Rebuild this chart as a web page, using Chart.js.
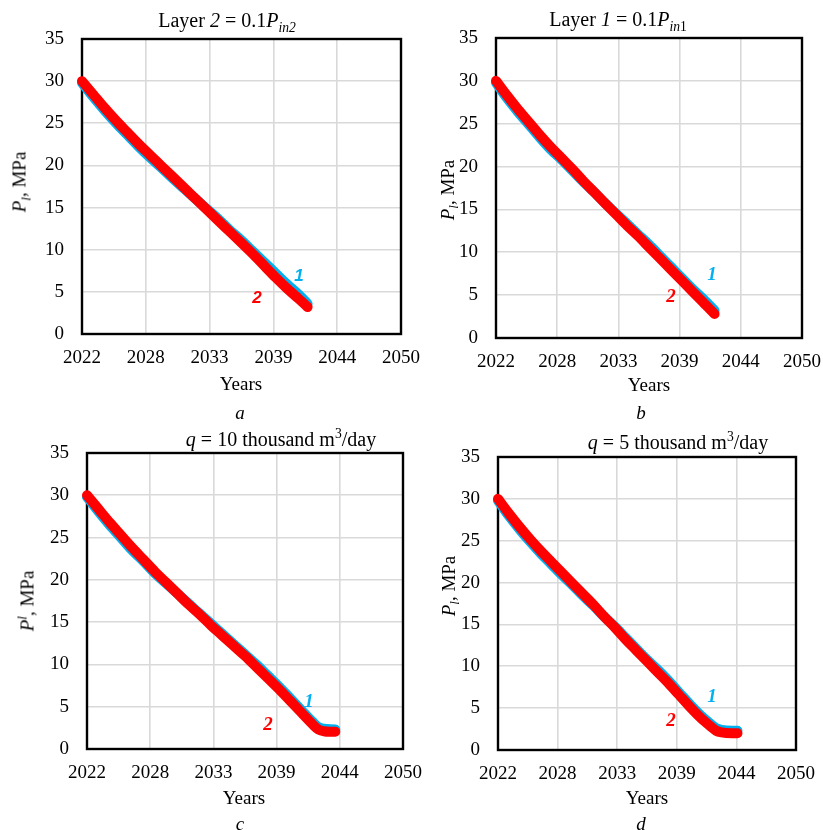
<!DOCTYPE html>
<html lang="en">
<head>
<meta charset="UTF-8">
<title>Layer pressure vs years</title>
<script src="https://cdn.jsdelivr.net/npm/chart.js"></script>
<style>
  body { margin: 0; background: #fff; font-family: "Liberation Serif", "Times New Roman", serif; color: #000; }
  .page { position: relative; width: 823px; height: 830px; overflow: hidden; }
  canvas { position: absolute; }
  .txt { position: absolute; transform: translate(-50%, -50%); white-space: nowrap; font-size: 19px; line-height: 1; }
  .title { font-size: 20px; }
  .ytitle { transform: translate(-50%, -50%) rotate(-90deg); }
  .num { font-weight: bold; font-style: italic; font-size: 19px; }
  .sans { font-family: "Liberation Sans", Arial, sans-serif; font-size: 17px; }
  .blue { color: #00b0f0; }
  .red { color: #ff0000; }
  sub, sup { font-size: 0.68em; line-height: 0; }
</style>
</head>
<body>
<div class="page" id="page">
  <canvas id="chartA" width="425" height="380"></canvas>
  <canvas id="chartB" width="413" height="380"></canvas>
  <canvas id="chartC" width="425" height="380"></canvas>
  <canvas id="chartD" width="413" height="380"></canvas>

  <div class="txt title" style="left:227px;top:20px">Layer <i>2</i> = 0.1<i>P</i><sub><i>in2</i></sub></div>
  <div class="txt title" style="left:618px;top:19px">Layer <i>1</i> = 0.1<i>P</i><sub><i>in</i>1</sub></div>
  <div class="txt title" style="left:281px;top:439px"><i>q</i> = 10 thousand m<sup>3</sup>/day</div>
  <div class="txt title" style="left:678px;top:442px"><i>q</i> = 5 thousand m<sup>3</sup>/day</div>

  <div class="txt ytitle" style="left:19px;top:182px"><i>P</i><sub><i>l</i></sub>, MPa</div>
  <div class="txt ytitle" style="left:447px;top:190px"><i>P</i><sub><i>l</i></sub>, MPa</div>
  <div class="txt ytitle" style="left:27px;top:601px"><i>P</i><sup><i>l</i></sup>, MPa</div>
  <div class="txt ytitle" style="left:448px;top:586px"><i>P</i><sub><i>l</i></sub>, MPa</div>

  <div class="txt" style="left:241px;top:383px">Years</div>
  <div class="txt" style="left:649px;top:384px">Years</div>
  <div class="txt" style="left:244px;top:797px">Years</div>
  <div class="txt" style="left:647px;top:797px">Years</div>

  <div class="txt" style="left:240px;top:412px"><i>a</i></div>
  <div class="txt" style="left:641px;top:412px"><i>b</i></div>
  <div class="txt" style="left:240px;top:823px"><i>c</i></div>
  <div class="txt" style="left:641px;top:823px"><i>d</i></div>

  <div class="txt num sans blue" style="left:299px;top:275px">1</div>
  <div class="txt num sans red" style="left:257px;top:297px">2</div>
  <div class="txt num blue" style="left:712px;top:273px">1</div>
  <div class="txt num red" style="left:671px;top:295px">2</div>
  <div class="txt num blue" style="left:309px;top:700px">1</div>
  <div class="txt num red" style="left:268px;top:723px">2</div>
  <div class="txt num blue" style="left:712px;top:695px">1</div>
  <div class="txt num red" style="left:671px;top:719px">2</div>
</div>

<script>
// x axis: date axis 2022..2050 split in 5 equal steps, labels rounded to whole years
const xTickValues = [2022, 2027.6, 2033.2, 2038.8, 2044.4, 2050];
const xTickLabels = ['2022', '2028', '2033', '2039', '2044', '2050'];

// panel a  (layer 2 = 0.1 Pin2)
const yearsA = [2022, 2023, 2024, 2025, 2026, 2027, 2028, 2029, 2030, 2031, 2032, 2033, 2034, 2035, 2036, 2037, 2038, 2039, 2040, 2041, 2041.8];
const pressA1 = [29.8, 28.1, 26.5, 25.0, 23.6, 22.2, 20.9, 19.7, 18.4, 17.2, 16.0, 14.8, 13.6, 12.3, 11.1, 9.8, 8.5, 7.2, 5.9, 4.7, 3.6];
const pressA2 = [30.0, 28.4, 26.8, 25.3, 23.9, 22.5, 21.2, 19.9, 18.6, 17.3, 16.0, 14.7, 13.4, 12.1, 10.8, 9.5, 8.1, 6.7, 5.4, 4.2, 3.2];

// panel b  (layer 1 = 0.1 Pin1)
const yearsB = [2022, 2023, 2024, 2025, 2026, 2027, 2028, 2029, 2030, 2031, 2032, 2033, 2034, 2035, 2036, 2037, 2038, 2039, 2040, 2041, 2042];
const pressB1 = [29.8, 28.0, 26.4, 24.9, 23.4, 22.0, 20.8, 19.5, 18.2, 17.0, 15.7, 14.5, 13.3, 12.1, 10.9, 9.6, 8.3, 7.0, 5.7, 4.5, 3.2];
const pressB2 = [30.0, 28.3, 26.7, 25.2, 23.7, 22.3, 21.0, 19.7, 18.3, 17.0, 15.7, 14.4, 13.1, 11.9, 10.6, 9.3, 8.0, 6.7, 5.4, 4.1, 2.8];

// panel c  (q = 10 thousand m3/day)
const yearsC = [2022, 2023, 2024, 2025, 2026, 2027, 2028, 2029, 2030, 2031, 2032, 2033, 2034, 2035, 2036, 2037, 2038, 2039, 2040, 2041, 2042, 2042.5, 2043, 2043.5, 2044];
const pressC1 = [29.8, 28.1, 26.5, 25.0, 23.5, 22.2, 20.8, 19.6, 18.4, 17.2, 16.0, 14.8, 13.6, 12.4, 11.2, 10.0, 8.7, 7.4, 6.0, 4.6, 3.2, 2.6, 2.4, 2.35, 2.3];
const pressC2 = [30.0, 28.4, 26.8, 25.3, 23.8, 22.4, 21.0, 19.7, 18.4, 17.1, 15.9, 14.6, 13.4, 12.2, 11.0, 9.7, 8.4, 7.1, 5.7, 4.3, 2.9, 2.3, 2.1, 2.05, 2.05];

// panel d  (q = 5 thousand m3/day)
const yearsD = [2022, 2023, 2024, 2025, 2026, 2027, 2028, 2029, 2030, 2031, 2032, 2033, 2034, 2035, 2036, 2037, 2038, 2039, 2040, 2041, 2042, 2042.5, 2043, 2044, 2044.5];
const pressD1 = [29.8, 28.0, 26.4, 24.9, 23.5, 22.2, 20.9, 19.7, 18.4, 17.2, 15.9, 14.7, 13.4, 12.1, 10.8, 9.6, 8.3, 6.9, 5.5, 4.2, 3.1, 2.6, 2.4, 2.3, 2.3];
const pressD2 = [30.0, 28.3, 26.7, 25.2, 23.8, 22.5, 21.2, 19.9, 18.6, 17.3, 15.9, 14.6, 13.2, 11.9, 10.6, 9.3, 8.0, 6.6, 5.2, 3.9, 2.8, 2.3, 2.1, 2.0, 2.0];

const FONT = { family: '"Liberation Serif", "Times New Roman", serif', size: 19 };

// black frame around the plot area, under the curves
const framePlugin = {
  id: 'frame',
  beforeDatasetsDraw(chart) {
    const a = chart.chartArea, ctx = chart.ctx;
    ctx.save();
    ctx.strokeStyle = '#000';
    ctx.lineWidth = 2.4;
    ctx.strokeRect(a.left, a.top, a.right - a.left, a.bottom - a.top);
    ctx.restore();
  }
};

function makeChart(id, box, area, years, s1, s2) {
  const canvas = document.getElementById(id);
  canvas.style.left = box.x + 'px';
  canvas.style.top = box.y + 'px';
  const pts = s => years.map((x, i) => ({ x: x, y: s[i] }));
  const line = (label, data, color, order) => ({
    label: label,
    data: data,
    borderColor: color,
    borderWidth: 10,
    borderCapStyle: 'round',
    borderJoinStyle: 'round',
    cubicInterpolationMode: 'monotone',
    pointRadius: 0,
    clip: false,
    order: order
  });

  return new Chart(canvas.getContext('2d'), {
    type: 'line',
    data: {
      datasets: [line('2', pts(s2), '#ff0000', 0), line('1', pts(s1), '#00b0f0', 1)]
    },
    options: {
      responsive: false,
      animation: false,
      devicePixelRatio: 1,
      plugins: { legend: { display: false }, tooltip: { enabled: false } },
      layout: {
        padding: { left: 0, top: area.t - box.y, right: box.x + box.w - area.r, bottom: 0 }
      },
      scales: {
        x: {
          type: 'linear',
          min: 2022,
          max: 2050,
          afterBuildTicks: s => { s.ticks = xTickValues.map(v => ({ value: v })); },
          afterFit: s => { s.height = box.y + box.h - area.b; },
          ticks: {
            callback: (v, i) => xTickLabels[i],
            autoSkip: false,
            maxRotation: 0,
            padding: 0,
            color: '#000',
            font: FONT
          },
          // invisible tick marks just push the labels down
          grid: { color: '#d9d9d9', lineWidth: 1.6, drawTicks: true, tickLength: 13, tickColor: 'rgba(0,0,0,0)' },
          border: { display: false }
        },
        y: {
          min: 0,
          max: 35,
          afterFit: s => { s.width = area.l - box.x; },
          ticks: { stepSize: 5, padding: 0, color: '#000', font: FONT },
          grid: { color: '#d9d9d9', lineWidth: 1.6, drawTicks: true, tickLength: 18, tickColor: 'rgba(0,0,0,0)' },
          border: { display: false }
        }
      }
    },
    plugins: [framePlugin]
  });
}

makeChart('chartA', { x: 0, y: 0, w: 425, h: 380 }, { l: 82, t: 39, r: 401, b: 334 }, yearsA, pressA1, pressA2);
makeChart('chartB', { x: 410, y: 0, w: 413, h: 380 }, { l: 496, t: 38, r: 802, b: 338 }, yearsB, pressB1, pressB2);
makeChart('chartC', { x: 0, y: 415, w: 425, h: 380 }, { l: 87, t: 453, r: 403, b: 749 }, yearsC, pressC1, pressC2);
makeChart('chartD', { x: 410, y: 415, w: 413, h: 380 }, { l: 498, t: 457, r: 796, b: 750 }, yearsD, pressD1, pressD2);
</script>
</body>
</html>
